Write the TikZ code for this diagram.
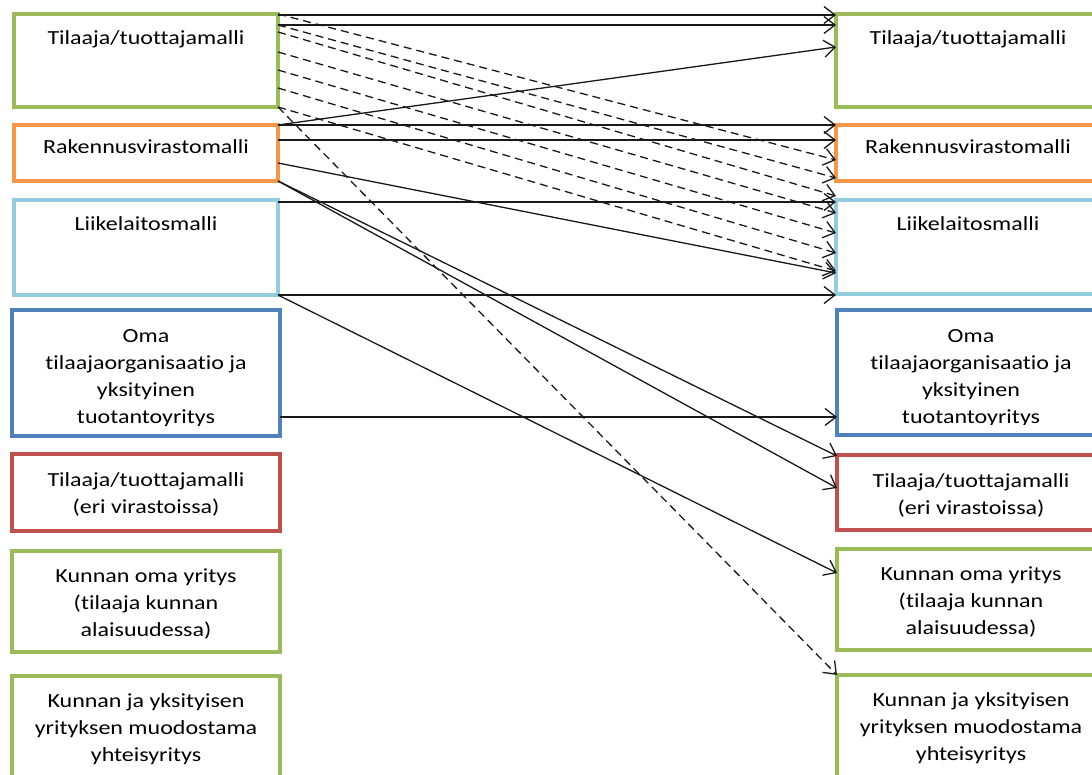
\documentclass[tikz,border=0pt]{standalone}
\usepackage{fontspec}
\setmainfont{Carlito}[FakeStretch=1.2,Ligatures=CommonOff]
\usetikzlibrary{positioning,arrows.meta}
\definecolor{boxgreen}{HTML}{9BBB59}
\definecolor{boxorange}{HTML}{F79646}
\definecolor{boxaqua}{HTML}{93CDDD}
\definecolor{boxblue}{HTML}{4F81BD}
\definecolor{boxred}{HTML}{C0504D}

\begin{document}
\begin{tikzpicture}[x=1pt,y=-1pt,
        >={Straight Barb[length=11pt,width=17pt,line width=1.3pt]},
        box/.style={draw=#1,line width=3.5pt,minimum width=264pt,inner sep=0pt,outer sep=0pt,anchor=north west},
        txt/.style={align=center,inner sep=0pt,anchor=north,font=\fontsize{20}{27}\selectfont,execute at begin node=\strut},
        link/.style={line width=1.3pt,draw=black!90,->},
        dlink/.style={link,dash pattern=on 8pt off 5pt}]
        \useasboundingbox (0,0) rectangle (1092,775);
        \clip (0,0) rectangle (1092,775);

        \node[box=boxgreen,minimum height=93pt](l1)at(14,14){};
        \node[box=boxorange,minimum height=56pt](l2)at(14,125){};
        \node[box=boxaqua,minimum height=95pt](l3)at(14,200){};
        \node[box=boxblue,minimum height=126pt,minimum width=268pt](l4)at(12,310){};
        \node[box=boxred,minimum height=77pt,minimum width=268pt](l5)at(12,454){};
        \node[box=boxgreen,minimum height=101pt,minimum width=268pt](l6)at(12,551){};
        \node[box=boxgreen,minimum height=120pt,minimum width=268pt](l7)at(12,676){};

        \node[box=boxgreen,minimum height=93pt](r1)at(836,14){};
        \node[box=boxorange,minimum height=56pt](r2)at(836,125){};
        \node[box=boxaqua,minimum height=94pt](r3)at(836,200){};
        \node[box=boxblue,minimum height=125pt,minimum width=268pt](r4)at(837,310){};
        \node[box=boxred,minimum height=75pt,minimum width=268pt](r5)at(837,455){};
        \node[box=boxgreen,minimum height=101pt,minimum width=268pt](r6)at(837,549){};
        \node[box=boxgreen,minimum height=120pt,minimum width=268pt](r7)at(837,675){};

        \foreach \b in {l,r}{
            \node[txt,below=11pt of \b1.north]{Tilaaja/tuottajamalli};
            \node[txt,below=9pt of \b2.north]{Rakennusvirastomalli};
            \node[txt,below=11pt of \b3.north]{Liikelaitosmalli};
            \begin{scope}
                \clip(\b4.north west)rectangle([yshift=11pt]\b4.south east);
                \node[txt,below=19pt of \b4.north]{Oma\\tilaajaorganisaatio ja\\yksityinen\\tuotantoyritys};
            \end{scope}
            \node[txt,below=18pt of \b5.north]{Tilaaja/tuottajamalli\\(eri virastoissa)};
            \node[txt,below=18pt of \b6.north]{Kunnan oma yritys\\(tilaaja kunnan\\alaisuudessa)};
            \node[txt,below=17pt of \b7.north]{Kunnan ja yksityisen\\yrityksen muodostama\\yhteisyritys};
        }

        \draw[link]([yshift=-1pt]l1.north east)--([yshift=-1pt]r1.north west);
        \draw[link]([yshift=-11pt]l1.north east)--([yshift=-11pt]r1.north west);
        \draw[link](l2.north east)--([yshift=-33pt]r1.north west);
        \draw[link](l2.north east)--(r2.north west);
        \draw[link]([yshift=-15pt]l2.north east)--([yshift=-15pt]r2.north west);
        \draw[link]([yshift=-38pt]l2.north east)--([yshift=-73pt]r3.north west);
        \draw[link](l2.south east)--([yshift=-1pt]r5.north west);
        \draw[link](l2.south east)--([yshift=-33pt]r5.north west);
        \draw[link]([yshift=-2pt]l3.north east)--([yshift=-2pt]r3.north west);
        \draw[link](l3.south east)--([yshift=-1pt]r3.south west);
        \draw[link](l3.south east)--([yshift=-24pt]r6.north west);
        \draw[link]([yshift=-107pt]l4.north east)--([yshift=-107pt]r4.north west);

        \foreach \s/\e in {0/35,11/53,18/71,38/88,56/108,74/128,93/146}
            \draw[dlink]([yshift=-\s pt]l1.north east)--([yshift=-\e pt]r2.north west);
        \draw[dlink](l1.south east)--(r7.north west);
    \end{tikzpicture}
\end{document}
